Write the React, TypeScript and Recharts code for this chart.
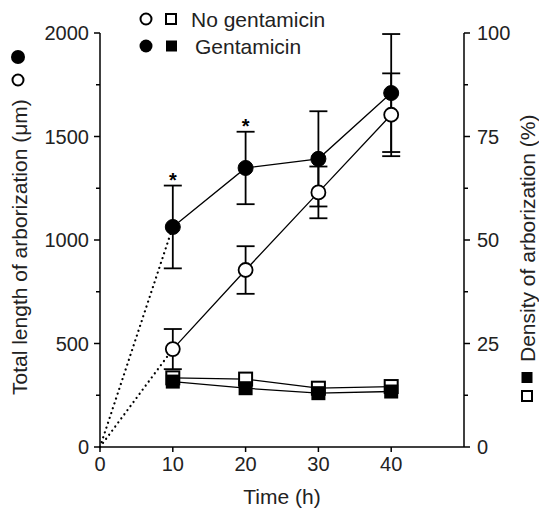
import React from 'react';
import { ComposedChart, Line, XAxis, YAxis, ErrorBar, Scatter, Customized } from 'recharts';

// ---- data ----
const times = [10, 20, 30, 40];
const noGentLength = [473, 855, 1230, 1605];
const noGentLengthErr = [97, 115, 125, 200];
const gentLength = [1063, 1348, 1392, 1710];
const gentLengthErr = [200, 175, 230, 285];
const noGentDensity = [16.7, 16.4, 14.2, 14.6];
const gentDensity = [15.8, 14.2, 13.0, 13.4];
const significant = [true, true, false, false];

const xTicks = [0, 10, 20, 30, 40];
const leftTicks = [0, 250, 500, 750, 1000, 1250, 1500, 1750, 2000];
const rightTicks = [0, 12.5, 25, 37.5, 50, 62.5, 75, 87.5, 100];
const legendLabels = ['No gentamicin', 'Gentamicin'];
const xLabel = 'Time (h)';
const leftLabel = 'Total length of arborization (\u03bcm)';
const rightLabel = 'Density of arborization (%)';

// ---- layout ----
const W = 539;
const H = 510;
const MARGIN = { top: 33, right: 30, bottom: 23, left: 40 };
const LEFT_W = 60;
const RIGHT_W = 45;
const X_H = 40;
const PL = MARGIN.left + LEFT_W;
const PR = W - MARGIN.right - RIGHT_W;
const FONT = '"Liberation Sans", Arial, Helvetica, sans-serif';
const TICK_SIZE = 6;
const TICK_MARGIN = 2;

const origin: any = { t: 0, gentDot: 0, noDot: 0 };
const rows: any[] = [
  origin,
  ...times.map((t, i) => ({
    t,
    gentLen: gentLength[i],
    gentErr: gentLengthErr[i],
    noLen: noGentLength[i],
    noErr: noGentLengthErr[i],
    gentDen: gentDensity[i],
    noDen: noGentDensity[i],
    gentDot: i === 0 ? gentLength[i] : undefined,
    noDot: i === 0 ? noGentLength[i] : undefined,
  })),
];
const starRows = times
  .map((t, i) => ({ t, star: gentLength[i] + gentLengthErr[i] }))
  .filter((_, i) => significant[i]);

const ok = (p: any) => p && p.cx != null && p.cy != null && !isNaN(p.cx) && !isNaN(p.cy);

const OpenCircle = (p: any) =>
  ok(p) ? <circle key={p.key} cx={p.cx} cy={p.cy} r={7} fill="#fff" stroke="#000" strokeWidth={1.8} /> : <g key={p && p.key} />;
const FilledCircle = (p: any) =>
  ok(p) ? <circle key={p.key} cx={p.cx} cy={p.cy} r={7.5} fill="#000" stroke="#000" strokeWidth={1} /> : <g key={p && p.key} />;
const OpenSquare = (p: any) =>
  ok(p) ? <rect key={p.key} x={p.cx - 6.5} y={p.cy - 6.5} width={13} height={13} fill="#fff" stroke="#000" strokeWidth={2} /> : <g key={p && p.key} />;
const FilledSquare = (p: any) =>
  ok(p) ? <rect key={p.key} x={p.cx - 7} y={p.cy - 7} width={14} height={14} fill="#000" /> : <g key={p && p.key} />;

const Star = (p: any) =>
  ok(p) ? (
    <text x={p.cx} y={p.cy + 1} textAnchor="middle" fontFamily={FONT} fontSize={20} fontWeight="bold" fill="#000">*</text>
  ) : <g />;

const LeftTick = (p: any) => {
  const v = p.payload.value;
  const ax = p.x + TICK_SIZE + TICK_MARGIN;
  const major = v % 500 === 0;
  return (
    <g>
      <line x1={ax - (major ? 6 : 4)} x2={ax} y1={p.y} y2={p.y} stroke="#000" strokeWidth={1.5} />
      {major && (
        <text x={ax - 11} y={p.y} dy="0.36em" textAnchor="end" fontFamily={FONT} fontSize={20} fill="#222">{v}</text>
      )}
    </g>
  );
};

const RightTick = (p: any) => {
  const v = p.payload.value;
  const ax = p.x - TICK_SIZE - TICK_MARGIN;
  const major = v % 25 === 0;
  return (
    <g>
      <line x1={ax} x2={ax + (major ? 6 : 4)} y1={p.y} y2={p.y} stroke="#000" strokeWidth={1.5} />
      {major && (
        <text x={ax + 13} y={p.y} dy="0.36em" textAnchor="start" fontFamily={FONT} fontSize={20} fill="#222">{v}</text>
      )}
    </g>
  );
};

const BottomTick = (p: any) => {
  const v = p.payload.value;
  const ay = p.y - TICK_SIZE - TICK_MARGIN;
  return (
    <g>
      <line x1={p.x} x2={p.x} y1={ay} y2={ay + 5} stroke="#000" strokeWidth={1.5} />
      <text x={p.x} y={ay + 24} textAnchor="middle" fontFamily={FONT} fontSize={20} fill="#222">{v}</text>
    </g>
  );
};

const Decorations = () => {
  const lx = 19;
  const rx = 527;
  return (
    <g fontFamily={FONT} fill="#222">
      {/* legend */}
      <circle cx={146} cy={19} r={5.5} fill="#fff" stroke="#000" strokeWidth={2} />
      <rect x={166} y={14} width={10} height={10} fill="#fff" stroke="#000" strokeWidth={2} />
      <text x={191} y={19} dy="0.36em" fontSize={21}>{legendLabels[0]}</text>
      <circle cx={146} cy={46} r={6.5} fill="#000" />
      <rect x={166} y={40.5} width={11} height={11} fill="#000" />
      <text x={195} y={46} dy="0.36em" fontSize={21}>{legendLabels[1]}</text>
      {/* x label */}
      <text x={(PL + PR) / 2} y={496} dy="0.36em" textAnchor="middle" fontSize={21}>{xLabel}</text>
      {/* left label */}
      <text transform={`translate(${lx},395) rotate(-90)`} dy="0.36em" textAnchor="start" fontSize={21}>{leftLabel}</text>
      <circle cx={lx - 1} cy={80} r={5.5} fill="#fff" stroke="#000" strokeWidth={2} />
      <circle cx={lx - 1} cy={57} r={7} fill="#000" />
      {/* right label */}
      <text transform={`translate(${rx},362) rotate(-90)`} dy="0.36em" textAnchor="start" fontSize={21}>{rightLabel}</text>
      <rect x={rx - 5.5} y={372} width={11} height={11} fill="#000" />
      <rect x={rx - 5} y={391} width={10} height={10} fill="#fff" stroke="#000" strokeWidth={2} />
    </g>
  );
};

export default function App() {
  return (
    <div style={{ position: 'absolute', left: 0, top: 0, background: '#fff' }}>
      <ComposedChart width={W} height={H} data={rows} margin={MARGIN}>
        <XAxis
          dataKey="t"
          type="number"
          domain={[0, 50]}
          ticks={xTicks}
          height={X_H}
          axisLine={{ stroke: '#000', strokeWidth: 1.5 }}
          tickLine={false}
          tickSize={TICK_SIZE}
          tickMargin={TICK_MARGIN}
          tick={<BottomTick />}
          interval={0}
        />
        <YAxis
          yAxisId="left"
          domain={[0, 2000]}
          ticks={leftTicks}
          width={LEFT_W}
          axisLine={{ stroke: '#000', strokeWidth: 1.5 }}
          tickLine={false}
          tickSize={TICK_SIZE}
          tickMargin={TICK_MARGIN}
          tick={<LeftTick />}
          interval={0}
        />
        <YAxis
          yAxisId="right"
          orientation="right"
          domain={[0, 100]}
          ticks={rightTicks}
          width={RIGHT_W}
          axisLine={{ stroke: '#000', strokeWidth: 1.5 }}
          tickLine={false}
          tickSize={TICK_SIZE}
          tickMargin={TICK_MARGIN}
          tick={<RightTick />}
          interval={0}
        />
        <Line yAxisId="left" dataKey="gentDot" stroke="#000" strokeWidth={2.2} strokeDasharray="0.1 5" strokeLinecap="round" dot={false} isAnimationActive={false} />
        <Line yAxisId="left" dataKey="noDot" stroke="#000" strokeWidth={2.2} strokeDasharray="0.1 5" strokeLinecap="round" dot={false} isAnimationActive={false} />
        <Line yAxisId="right" dataKey="noDen" stroke="#000" strokeWidth={1.3} dot={OpenSquare} isAnimationActive={false} />
        <Line yAxisId="right" dataKey="gentDen" stroke="#000" strokeWidth={1.3} dot={FilledSquare} isAnimationActive={false} />
        <Line yAxisId="left" dataKey="noLen" stroke="#000" strokeWidth={1.3} dot={OpenCircle} isAnimationActive={false}>
          <ErrorBar dataKey="noErr" direction="y" width={9} stroke="#000" strokeWidth={1.8} />
        </Line>
        <Line yAxisId="left" dataKey="gentLen" stroke="#000" strokeWidth={1.3} dot={FilledCircle} isAnimationActive={false}>
          <ErrorBar dataKey="gentErr" direction="y" width={9} stroke="#000" strokeWidth={1.8} />
        </Line>
        <Scatter yAxisId="left" data={starRows} dataKey="star" shape={Star} isAnimationActive={false} />
        <Customized component={Decorations} />
      </ComposedChart>
    </div>
  );
}
